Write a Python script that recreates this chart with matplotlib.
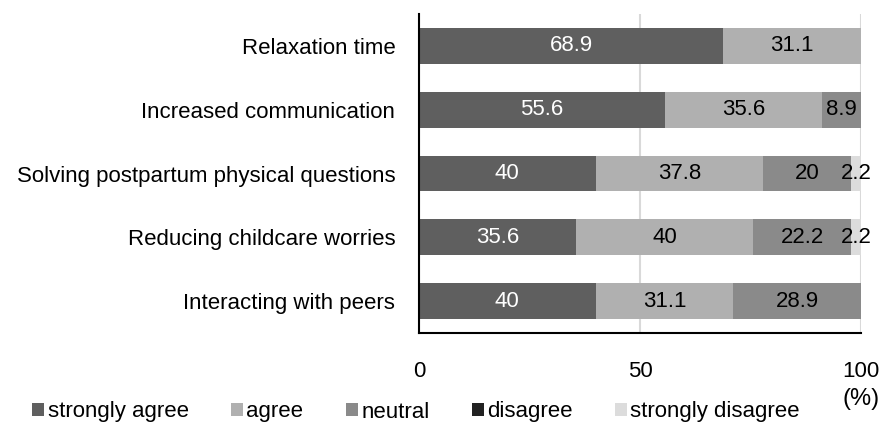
import matplotlib
matplotlib.use("Agg")
import matplotlib.pyplot as plt
from matplotlib.patches import Patch
import numpy as np

plt.rcParams['font.family'] = ['Liberation Sans', 'DejaVu Sans']

categories = ["Relaxation time",
              "Increased communication",
              "Solving postpartum physical questions",
              "Reducing childcare worries",
              "Interacting with peers"]
series_names = ["strongly agree", "agree", "neutral", "disagree", "strongly disagree"]
strongly_agree = [68.9, 55.6, 40, 35.6, 40]
agree = [31.1, 35.6, 37.8, 40, 31.1]
neutral = [0, 8.9, 20, 22.2, 28.9]
disagree = [0, 0, 0, 0, 0]
strongly_disagree = [0, 0, 2.2, 2.2, 0]
colors = ["#5f5f5f", "#b0b0b0", "#8a8a8a", "#222222", "#dcdcdc"]
text_colors = ["white", "black", "black", "black", "black"]

data = [strongly_agree, agree, neutral, disagree, strongly_disagree]

fig = plt.figure(figsize=(8.83, 4.25), dpi=100)
ax = fig.add_axes([0.4745, 0.2165, 0.5005, 0.7505])

y = np.arange(len(categories))
left = np.zeros(len(categories))
for vals, col, tcol in zip(data, colors, text_colors):
    vals = np.array(vals, dtype=float)
    ax.barh(y, vals, left=left, height=0.56, color=col, zorder=2)
    for yi, (l, v) in enumerate(zip(left, vals)):
        if v > 0:
            ax.text(l + v / 2, yi, "{:g}".format(v), ha='center', va='center',
                    color=tcol, fontsize=16, zorder=3)
    left += vals

ax.set_xlim(0, 100)
ax.set_ylim(len(categories) - 0.5, -0.5)
ax.set_yticks(y)
ax.set_yticklabels(categories, fontsize=16)
ax.set_xticks([0, 50, 100])
ax.set_xticklabels(["0", "50", "100"], fontsize=16)
ax.tick_params(axis='both', length=0)
ax.tick_params(axis='x', pad=20)
ax.tick_params(axis='y', pad=17)
ax.xaxis.grid(True, color='#d9d9d9', linewidth=1.5, zorder=0)
for s in ['top', 'right']:
    ax.spines[s].set_visible(False)
ax.spines['left'].set_color('black')
ax.spines['left'].set_linewidth(1.5)
ax.spines['bottom'].set_color('black')
ax.spines['bottom'].set_linewidth(1.5)

# unit label, bottom right
fig.text(880 / 883, 1 - 399 / 425, "(%)", ha='right', va='center', fontsize=17)

handles = [Patch(facecolor=c, edgecolor='none') for c in colors]
fig.legend(handles, series_names, loc='center', ncol=5, frameon=False,
           bbox_to_anchor=(416 / 883, 1 - 412 / 425), fontsize=16,
           handlelength=0.55, handleheight=0.55, handletextpad=0.15,
           columnspacing=1.9, borderpad=0, borderaxespad=0)

fig.savefig("out.png", dpi=100)
